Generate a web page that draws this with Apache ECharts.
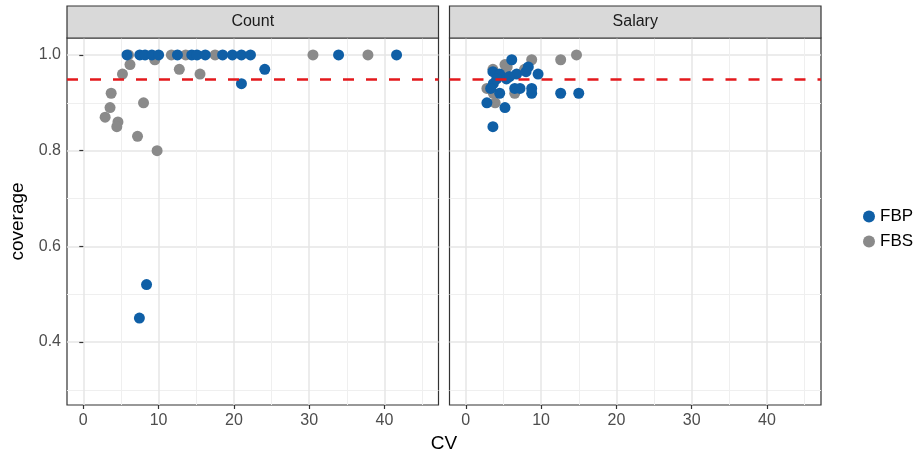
<!DOCTYPE html>
<html>
<head>
<meta charset="utf-8">
<script src="https://cdn.jsdelivr.net/npm/echarts@6/dist/echarts.min.js"></script>
<style>html,body{margin:0;padding:0;background:#fff}#c{width:922px;height:460px}</style>
</head>
<body>
<div id="c"></div>
<script>
// ---- data ----
const panels = ["Count", "Salary"];
const xTicks = [0, 10, 20, 30, 40];
const xMinor = [5, 15, 25, 35, 45];
const yTicks = [0.4, 0.6, 0.8, 1.0];
const yMinor = [0.3, 0.5, 0.7, 0.9];
const target = 0.95;

// Count panel: [CV, coverage]
const countFBS = [
  [2.9, 0.87], [3.55, 0.89], [3.7, 0.92], [4.6, 0.86], [4.45, 0.85],
  [5.2, 0.96], [6.2, 0.98], [6.0, 1.0], [8.0, 0.90], [7.2, 0.83],
  [9.8, 0.80], [9.5, 0.99], [12.75, 0.97], [15.5, 0.96], [17.5, 1.0],
  [13.6, 1.0], [11.7, 1.0], [30.5, 1.0], [37.8, 1.0]
];
const countFBP = [
  [5.8, 1.0], [7.5, 1.0], [8.2, 1.0], [9.1, 1.0], [10.0, 1.0],
  [12.5, 1.0], [14.4, 1.0], [15.1, 1.0], [16.2, 1.0], [18.5, 1.0],
  [19.8, 1.0], [21.0, 1.0], [22.2, 1.0], [33.9, 1.0], [41.6, 1.0],
  [24.1, 0.97], [21.0, 0.94], [8.4, 0.52], [7.45, 0.45]
];
// Salary panel
const salaryFBS = [
  [8.75, 0.99], [14.7, 1.0], [12.6, 0.99], [5.2, 0.98], [3.6, 0.97],
  [2.8, 0.93], [3.65, 0.92], [3.9, 0.90], [6.5, 0.92], [4.9, 0.96],
  [7.8, 0.97], [5.5, 0.975]
];
const salaryFBP = [
  [6.1, 0.99], [3.6, 0.965], [4.5, 0.96], [5.4, 0.95], [6.75, 0.96],
  [8.3, 0.975], [8.0, 0.965], [9.6, 0.96], [3.65, 0.94], [4.1, 0.95],
  [6.5, 0.93], [7.2, 0.93], [8.75, 0.93], [8.75, 0.92], [4.5, 0.92],
  [2.8, 0.90], [5.2, 0.89], [3.6, 0.85], [12.6, 0.92], [15.0, 0.92],
  [3.3, 0.93], [5.8, 0.955]
];

// ---- layout ----
const PANEL = [{left: 67, width: 371.5}, {left: 449.5, width: 371.5}];
const TOP = 38, HEIGHT = 367, STRIP_TOP = 6;
const XMIN = -2.165, XMAX = 47.17;
const YMIN = 0.2682, YMAX = 1.0355;
const BLUE = '#0F5FA6', GREY = '#8A8A8A', RED = '#E3191C';
const FONT = '"Liberation Sans", Arial, sans-serif';
const TICKC = '#4D4D4D', GRIDC = '#E6E6E6', MINORC = '#EFEFEF', BORDER = '#333333';

const chart = echarts.init(document.getElementById('c'), null, {renderer: 'canvas'});

const grids = PANEL.map(p => ({left: p.left, top: TOP, width: p.width, height: HEIGHT,
  show: true, borderColor: BORDER, borderWidth: 1.2, backgroundColor: '#fff'}));

const xAxes = [], yAxes = [];
PANEL.forEach((p, i) => {
  xAxes.push({type: 'value', gridIndex: i, min: XMIN, max: XMAX,
    axisLine: {show: false},
    axisTick: {show: true, length: 4, lineStyle: {color: BORDER, width: 1.2}, customValues: xTicks},
    axisLabel: {show: true, customValues: xTicks, color: TICKC, fontSize: 16, fontFamily: FONT, margin: 8},
    splitLine: {show: true, lineStyle: {color: GRIDC, width: 1.5}}
  });
  yAxes.push({type: 'value', gridIndex: i, min: YMIN, max: YMAX,
    axisLine: {show: false},
    axisTick: {show: i === 0, length: 4, lineStyle: {color: BORDER, width: 1.2}, customValues: yTicks},
    axisLabel: {show: i === 0, customValues: yTicks, color: TICKC, fontSize: 16, fontFamily: FONT, margin: 6,
      formatter: v => v.toFixed(1)},
    splitLine: {show: true, lineStyle: {color: GRIDC, width: 1.5}}
  });
});
PANEL.forEach((p, i) => {
  xAxes.push({type: 'value', gridIndex: i, min: XMIN, max: XMAX,
    axisLine: {show: false}, axisLabel: {show: false},
    axisTick: {show: false, customValues: xMinor},
    splitLine: {show: true, lineStyle: {color: MINORC, width: 1}}
  });
  yAxes.push({type: 'value', gridIndex: i, min: YMIN, max: YMAX,
    axisLine: {show: false}, axisLabel: {show: false},
    axisTick: {show: false, customValues: yMinor},
    splitLine: {show: true, lineStyle: {color: MINORC, width: 1}}
  });
});

function sc(name, data, gi, color) {
  return {name, type: 'scatter', xAxisIndex: gi, yAxisIndex: gi, data,
    symbol: 'circle', symbolSize: 11, itemStyle: {color, opacity: 1}, z: 3,
    emphasis: {disabled: true}, animation: false};
}
function hline(gi) {
  return {type: 'line', xAxisIndex: gi, yAxisIndex: gi, data: [], silent: true, z: 4,
    markLine: {silent: true, symbol: ['none', 'none'], label: {show: false}, animation: false,
      lineStyle: {color: RED, type: [11, 12], width: 2.6},
      data: [{yAxis: target}]}};
}

const series = [
  sc('FBS', countFBS, 0, GREY), sc('FBP', countFBP, 0, BLUE),
  sc('FBS', salaryFBS, 1, GREY), sc('FBP', salaryFBP, 1, BLUE),
  hline(0), hline(1)
];

const graphics = [];
PANEL.forEach((p, i) => {
  graphics.push({type: 'rect', shape: {x: p.left, y: STRIP_TOP, width: p.width, height: TOP - STRIP_TOP},
    style: {fill: '#D9D9D9', stroke: BORDER, lineWidth: 1.2}, z: 10});
  graphics.push({type: 'text', x: p.left + p.width / 2, y: (STRIP_TOP + TOP) / 2,
    style: {text: panels[i], fill: '#1A1A1A', font: '16px ' + FONT, textAlign: 'center', textVerticalAlign: 'middle'}, z: 11});
});
graphics.push({type: 'text', x: 444, y: 444,
  style: {text: 'CV', fill: '#000', font: '19px ' + FONT, textAlign: 'center', textVerticalAlign: 'middle'}});
graphics.push({type: 'text', x: 18, y: 221.5, rotation: Math.PI / 2,
  style: {text: 'coverage', fill: '#000', font: '19px ' + FONT, textAlign: 'center', textVerticalAlign: 'middle'}});

chart.setOption({
  animation: false,
  backgroundColor: '#fff',
  grid: grids,
  xAxis: xAxes,
  yAxis: yAxes,
  legend: {data: ['FBP', 'FBS'], orient: 'vertical', left: 858, top: 203, itemGap: 8,
    icon: 'circle', itemWidth: 12, itemHeight: 12,
    textStyle: {color: '#000', fontSize: 17, fontFamily: FONT}, selectedMode: false},
  series,
  graphic: graphics
});
</script>
</body>
</html>
